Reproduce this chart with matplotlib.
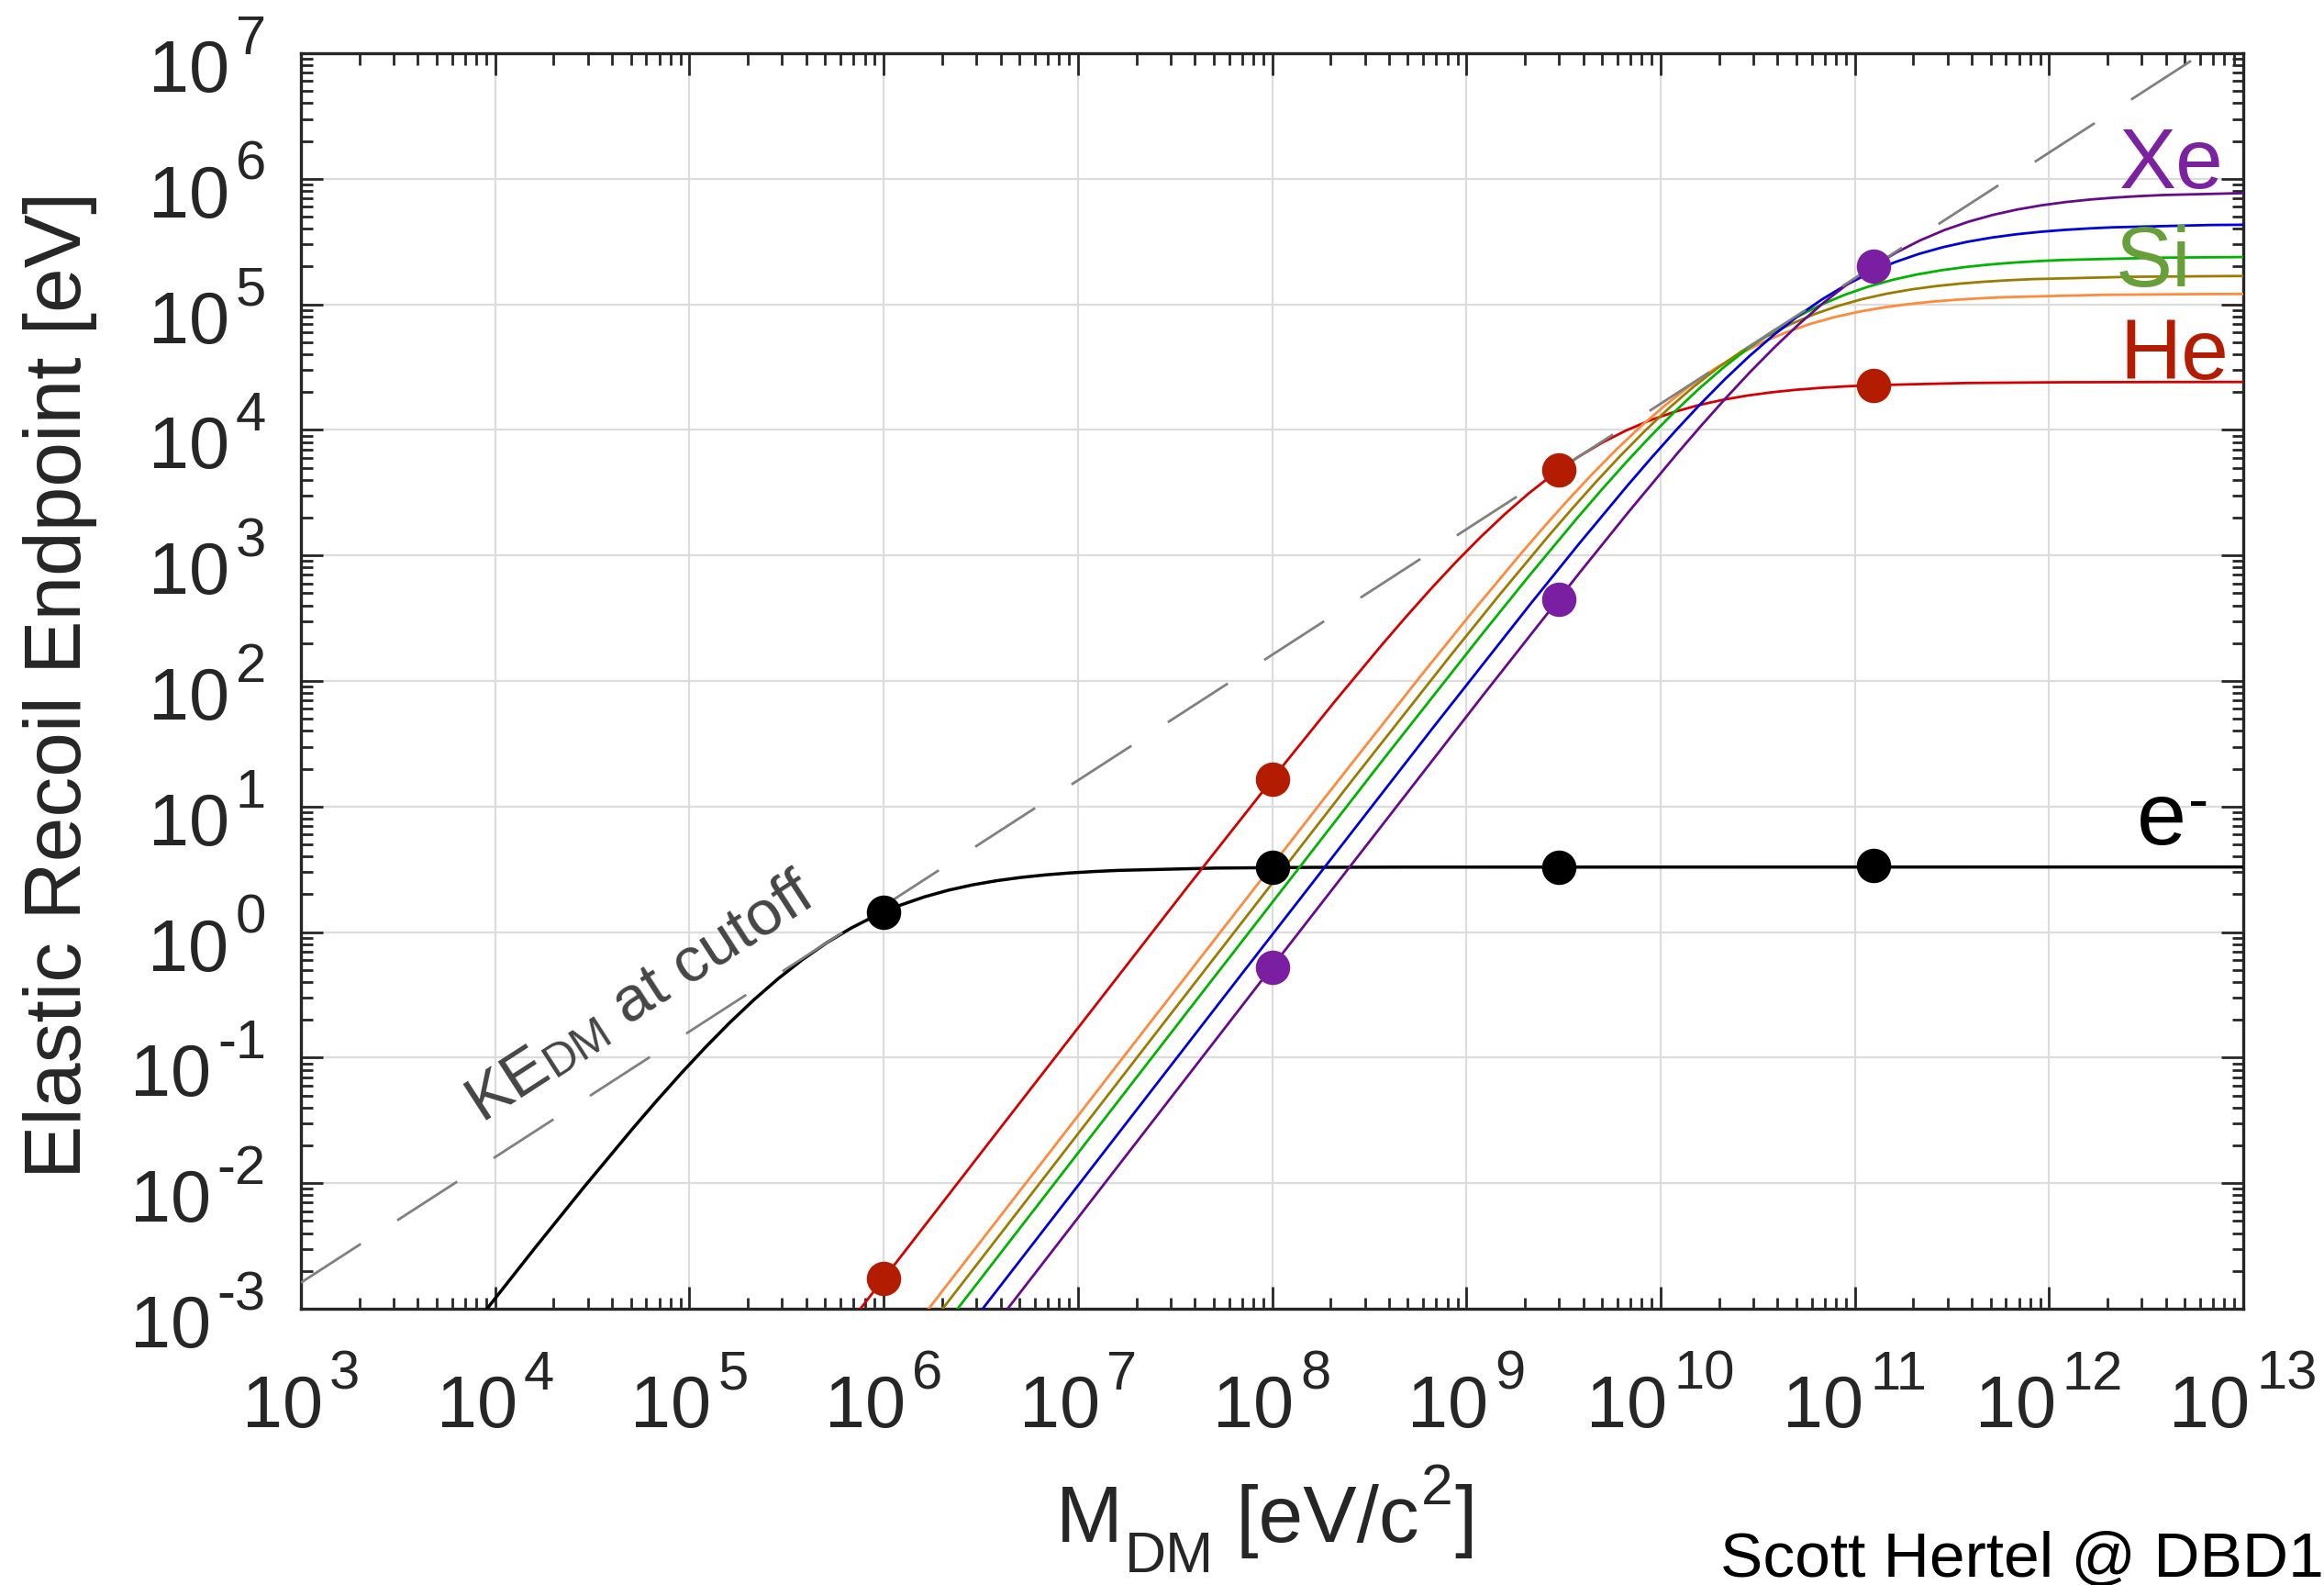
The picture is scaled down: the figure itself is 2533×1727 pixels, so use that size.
import numpy as np
import matplotlib
matplotlib.use("Agg")
import matplotlib.pyplot as plt
from matplotlib.ticker import FixedLocator, LogLocator, NullFormatter

# ---------------- data ----------------
e_mass = [5.11e2, 5.11e3, 1.616e4, 2.874e4, 5.11e4, 6.814e4, 9.087e4, 1.212e5, 1.616e5, 2.155e5,
          2.874e5, 3.832e5, 5.11e5, 6.814e5, 9.087e5, 1.212e6, 1.616e6, 2.155e6, 2.874e6, 3.832e6,
          5.11e6, 6.814e6, 9.087e6, 1.212e7, 1.616e7, 5.11e7, 1.616e8, 5.11e8, 1e13]
e_energy = [3.29e-6, 3.235e-4, 3.100e-3, 9.352e-3, 2.727e-2, 4.569e-2, 7.522e-2, 0.1213, 0.1905,
            0.2903, 0.4275, 0.6060, 0.825, 1.078, 1.352, 1.633, 1.905, 2.156, 2.379, 2.569, 2.727,
            2.856, 2.958, 3.038, 3.101, 3.235, 3.279, 3.293, 3.300]

he_mass = [3.727e5, 3.727e6, 3.727e7, 1.179e8, 2.096e8, 3.727e8, 4.970e8, 6.628e8, 8.838e8, 1.179e9,
           1.572e9, 2.096e9, 2.795e9, 3.727e9, 4.970e9, 6.628e9, 8.838e9, 1.179e10, 1.572e10,
           2.096e10, 2.795e10, 3.727e10, 4.970e10, 6.628e10, 8.838e10, 1.179e11, 3.727e11,
           1.179e12, 3.727e12, 1e13]
he_energy = [2.41e-4, 2.405e-2, 2.363, 22.64, 68.30, 199.2, 333.6, 549.4, 885.5, 1391, 2120, 3122,
             4426, 6025, 7870, 9873, 11923, 13911, 15747, 17372, 18762, 19917, 20855, 21602,
             22189, 22645, 23625, 23948, 24052, 24080]

ne_mass = [5.942e5, 1.879e6, 1.879e7, 1.879e8, 5.942e8, 1.057e9, 1.879e9, 2.506e9, 3.341e9,
           4.456e9, 5.942e9, 7.924e9, 1.057e10, 1.409e10, 1.879e10, 2.506e10, 3.341e10, 4.456e10,
           5.942e10, 7.924e10, 1.057e11, 1.409e11, 1.879e11, 2.506e11, 3.341e11, 4.456e11,
           5.942e11, 1.879e12, 5.942e12, 1.879e13]
ne_energy = [1.214e-4, 1.214e-3, 0.1212, 11.90, 114.1, 344.1, 1003, 1681, 2767, 4461, 7008, 10681,
             15728, 22294, 30350, 39646, 49736, 60062, 70074, 79321, 87510, 94512, 100330, 105054,
             108817, 111774, 114071, 119008, 120636, 121158]

si_mass = [8.273e5, 2.616e6, 2.616e7, 2.616e8, 8.273e8, 1.471e9, 2.616e9, 3.489e9, 4.652e9,
           6.204e9, 8.273e9, 1.103e10, 1.471e10, 1.962e10, 2.616e10, 3.489e10, 4.652e10, 6.204e10,
           8.273e10, 1.103e11, 1.471e11, 1.962e11, 2.616e11, 3.489e11, 4.652e11, 6.204e11,
           8.273e11, 2.616e12, 8.273e12, 2.616e13]
si_energy = [1.69e-4, 1.690e-3, 0.1687, 16.57, 158.8, 479.0, 1397, 2340, 3852, 6209, 9755, 14869,
             21894, 31036, 42250, 55190, 69236, 83613, 97550, 110423, 121821, 131570, 139669,
             146244, 151484, 155600, 158798, 165670, 167936, 168662]

ar_mass = [1.177e6, 3.721e6, 3.721e7, 3.721e8, 1.177e9, 2.092e9, 3.721e9, 4.962e9, 6.617e9,
           8.824e9, 1.177e10, 1.569e10, 2.092e10, 2.790e10, 3.721e10, 4.962e10, 6.617e10, 8.824e10,
           1.177e11, 1.569e11, 2.092e11, 2.790e11, 3.721e11, 4.962e11, 6.617e11, 8.824e11,
           1.177e12, 3.721e12, 1.177e13]
ar_energy = [2.40e-4, 2.400e-3, 0.2395, 23.53, 225.5, 680.2, 1983, 3323, 5471, 8818, 13853, 21115,
             31093, 44075, 60000, 78377, 98324, 118740, 138532, 156813, 173001, 186845, 198347,
             207684, 215125, 220971, 225512, 235271, 238489]

ge_mass = [2.139e6, 6.765e6, 6.765e7, 6.765e8, 2.139e9, 3.804e9, 6.765e9, 9.021e9, 1.203e10,
           1.604e10, 2.139e10, 2.853e10, 3.804e10, 5.073e10, 6.765e10, 9.021e10, 1.203e11,
           1.604e11, 2.139e11, 2.853e11, 3.804e11, 5.073e11, 6.765e11, 9.021e11, 1.203e12,
           1.604e12, 2.139e12, 6.765e12, 2.139e13]
ge_energy = [4.37e-4, 4.369e-3, 0.4361, 42.84, 410.6, 1238.5, 3611, 6050, 9961, 16056, 25225,
             38448, 56615, 80252, 109250, 142711, 179031, 216205, 252243, 285531, 315006, 340213,
             361157, 378158, 391707, 402351, 410620, 428389, 434250]

xe_mass = [3.866e6, 1.2225e7, 1.2225e8, 1.2225e9, 3.866e9, 6.874e9, 1.2225e10, 1.630e10, 2.174e10,
           2.899e10, 3.866e10, 5.155e10, 6.874e10, 9.167e10, 1.2225e11, 1.630e11, 2.174e11,
           2.899e11, 3.866e11, 5.155e11, 6.874e11, 9.167e11, 1.2225e12, 1.630e12, 2.174e12,
           2.899e12, 3.866e12, 1.2225e13]
xe_energy = [7.90e-4, 7.898e-3, 0.7884, 77.44, 742.2, 2239, 6529, 10937, 18008, 29026, 45600,
             69505, 102347, 145079, 197500, 257990, 323650, 390852, 456001, 516177, 569461,
             615031, 652892, 683627, 708120, 727362, 742310, 774434]

ke_mass = [1e3, 1e13]
ke_energy = [1.615e-3, 1.615e7]

dot_mass = [1e6, 1e8, 3e9, 1.25e11]
e_dots = [1.44, 3.28, 3.30, 3.40]
he_dots = [1.75e-3, 16.5, 4.8e3, 2.27e4]
xe_dot_mass = [1e8, 3e9, 1.25e11]
xe_dots = [0.52, 450, 2.02e5]

x_exponents = list(range(3, 14))
y_exponents = list(range(-3, 8))

# ---------------- figure ----------------
W, H = 2533, 1727
FONT = ["Liberation Sans", "DejaVu Sans"]
TXT = "#262626"

fig = plt.figure(figsize=(W / 100, H / 100), dpi=100)
ax = fig.add_axes([328 / W, 1 - 1426 / H, (2445 - 328) / W, (1426 - 58) / H])
ax.set_xscale("log")
ax.set_yscale("log")
ax.set_xlim(1e3, 1e13)
ax.set_ylim(1e-3, 1e7)

ax.xaxis.set_major_locator(FixedLocator([10.0 ** n for n in x_exponents]))
ax.yaxis.set_major_locator(FixedLocator([10.0 ** n for n in y_exponents]))
ax.xaxis.set_minor_locator(LogLocator(base=10, subs=np.arange(2, 10), numticks=200))
ax.yaxis.set_minor_locator(LogLocator(base=10, subs=np.arange(2, 10), numticks=200))
ax.xaxis.set_minor_formatter(NullFormatter())
ax.yaxis.set_minor_formatter(NullFormatter())

ax.tick_params(which="both", direction="in", top=True, right=True, color=TXT, width=2.0,
               labelbottom=False, labelleft=False)
ax.tick_params(which="major", length=17)
ax.tick_params(which="minor", length=9)
for sp in ax.spines.values():
    sp.set_linewidth(2.4)
    sp.set_color(TXT)
ax.grid(True, which="major", color="#dcdcdc", lw=1.6)
ax.set_axisbelow(True)

# curves
LW = 2.0
ax.plot(e_mass, e_energy, color="black", lw=2.5, zorder=3)
ax.plot(he_mass, he_energy, color="#d40000", lw=LW, zorder=3)
ax.plot(ne_mass, ne_energy, color="#ff8a3c", lw=LW, zorder=3)
ax.plot(si_mass, si_energy, color="#9a7d00", lw=LW, zorder=3)
ax.plot(ar_mass, ar_energy, color="#00b400", lw=LW, zorder=3)
ax.plot(ge_mass, ge_energy, color="#0000dc", lw=LW, zorder=3)
ax.plot(xe_mass, xe_energy, color="#680a8c", lw=LW, zorder=3)

ke_line, = ax.plot(ke_mass, ke_energy, color="#808080", lw=2.0, zorder=4)
ke_line.set_dashes([28, 17])

ax.plot(dot_mass, e_dots, "o", ms=27, color="black", mec="none", zorder=6)
ax.plot(dot_mass, he_dots, "o", ms=27, color="#b31c00", mec="none", zorder=6)
ax.plot(xe_dot_mass, xe_dots, "o", ms=27, color="#7a1fa2", mec="none", zorder=6)

# ---------------- text layout helpers ----------------
renderer = fig.canvas.get_renderer()


def run(pieces, x, y, ha="left", angle=0.0, color=TXT, zorder=7):
    """pieces: (text, size, dy_px, gap_px). x, y: figure pixels (y up), baseline anchor."""
    texts, widths = [], []
    for s, size, dy, gap in pieces:
        t = fig.text(0, 0, s, fontsize=size, family=FONT, color=color,
                     ha="left", va="baseline", zorder=zorder)
        widths.append(t.get_window_extent(renderer).width)
        texts.append(t)
    total = sum(widths) + sum(p[3] for p in pieces)
    start = {"left": 0.0, "center": -total / 2, "right": -total}[ha]
    c, s_ = np.cos(np.radians(angle)), np.sin(np.radians(angle))
    cum = start
    for t, w, p in zip(texts, widths, pieces):
        cum += p[3]
        px = x + cum * c - p[2] * s_
        py = y + cum * s_ + p[2] * c
        t.set_position((px / W, py / H))
        t.set_rotation(angle)
        t.set_rotation_mode("anchor")
        cum += w
    return texts


def to_px(xd, yd):
    return ax.transData.transform((xd, yd))


# tick labels
ax_left_px, ax_bottom_px = to_px(1e3, 1e-3)
for n in x_exponents:
    xp, _ = to_px(10.0 ** n, 1e-3)
    run([("10", 57, 0, 0), (str(n), 43, 41, 7)], xp, ax_bottom_px - 129, ha="center")
for n in y_exponents:
    _, yp = to_px(1e3, 10.0 ** n)
    run([("10", 57, 0, 0), (str(n), 43, 41, 7)], ax_left_px - 38, yp - 42, ha="right")

# axis labels
fig.text(88 / W, 1 - 746 / H, "Elastic Recoil Endpoint [eV]", rotation=90, fontsize=63,
         family=FONT, color=TXT, ha="center", va="baseline", rotation_mode="anchor")
ax_center_x = (to_px(1e3, 1)[0] + to_px(1e13, 1)[0]) / 2
run([("M", 63, 0, 0), ("DM", 45, -33, 2), (" [eV/c", 63, 0, 0), ("2", 45, 41, 2), ("]", 63, 0, 2)],
    ax_center_x - 6, H - 1680, ha="center")

# curve labels
xp, yp = to_px(2.3e12, 8.42e5)
run([("Xe", 67, 0, 0)], xp, yp, color="#7a22a0")
xp, yp = to_px(2.2e12, 1.39e5)
run([("Si", 67, 0, 0)], xp, yp, color="#67a03a")
xp, yp = to_px(2.3e12, 2.54e4)
run([("He", 67, 0, 0)], xp, yp, color="#b31c00")
xp, yp = to_px(2.83e12, 5.0)
run([("e", 70, 0, 0), ("-", 48, 27, 2)], xp, yp, color="black")

# KE_DM at cutoff, rotated along the dashed line
p0 = to_px(ke_mass[0], ke_energy[0])
p1 = to_px(ke_mass[1], ke_energy[1])
angle = np.degrees(np.arctan2(p1[1] - p0[1], p1[0] - p0[0]))
xp, yp = to_px(8.43e3, 0.0315)
run([("KE", 50, 0, 0), ("DM", 36, -4, 1), (" at cutoff", 50, 0, 0)], xp, yp,
    angle=angle, color="#454545")

# credit
fig.text(1.0, (H - 1718) / H, "Scott Hertel @ DBD1", fontsize=50, family=FONT,
         color="black", ha="right", va="baseline")

fig.savefig("out.png", dpi=100)
